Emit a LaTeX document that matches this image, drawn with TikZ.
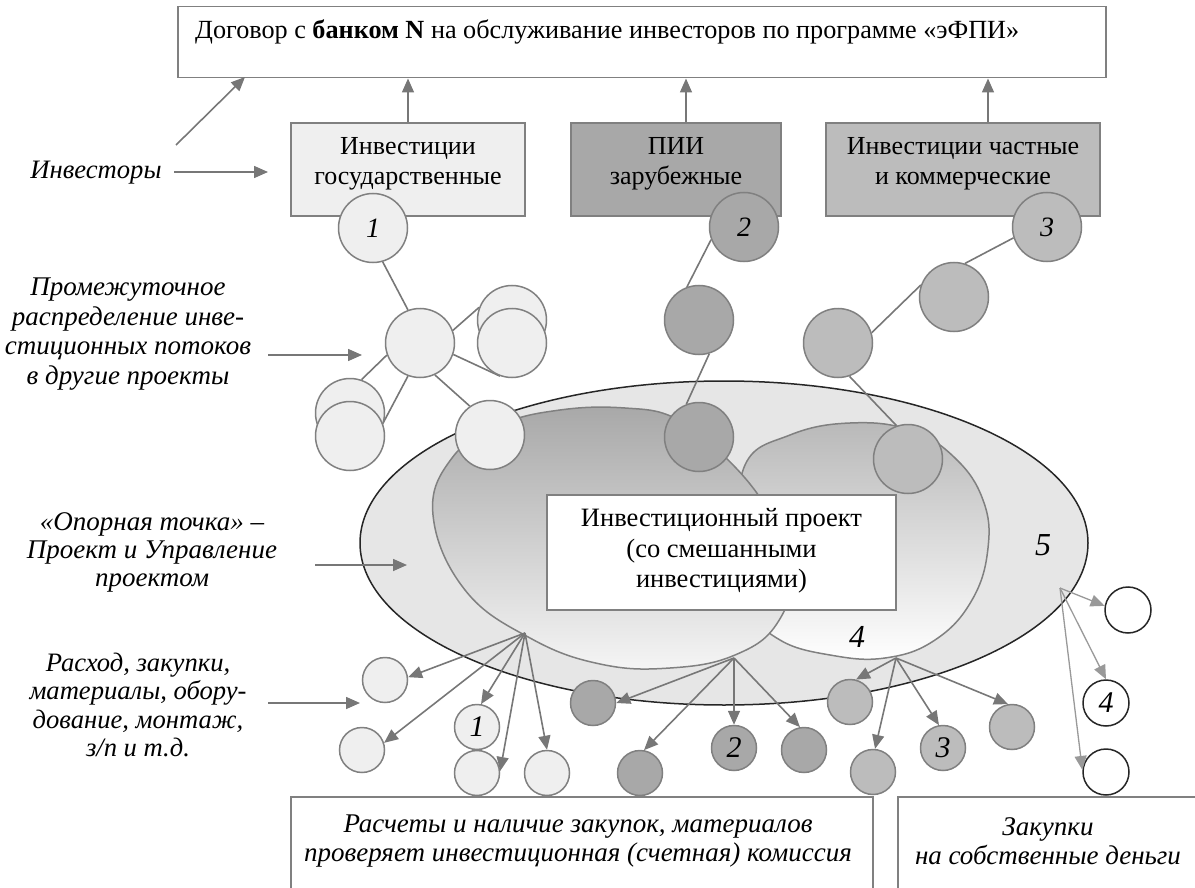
\documentclass[tikz,border=0pt]{standalone}
\usepackage{fontspec}
\setmainfont{Liberation Serif}
\usetikzlibrary{arrows.meta,shapes.geometric}
\definecolor{cl}{HTML}{EFEFEF}
\definecolor{cd}{HTML}{A8A8A8}
\definecolor{cm}{HTML}{BCBCBC}
\definecolor{edgec}{HTML}{808080}
\definecolor{conn}{HTML}{777777}
\definecolor{connl}{HTML}{999999}
\definecolor{ellc}{HTML}{E6E6E6}
\pgfdeclarelayer{fg}
\pgfsetlayers{main,fg}
\tikzset{
  bx/.style={draw=edgec, line width=1.5pt, inner sep=0pt},
  btxt/.style={align=center, font=\fontsize{26}{30}\selectfont},
  big/.style={circle, draw=edgec, line width=1.5pt, minimum size=69pt, inner sep=0pt, font=\fontsize{28}{28}\selectfont\itshape},
  sml/.style={circle, draw=edgec, line width=1.5pt, minimum size=45pt, inner sep=0pt, font=\fontsize{30}{30}\selectfont\itshape},
  wc/.style={circle, draw=black!85, line width=1.5pt, fill=white, minimum size=46pt, inner sep=0pt, font=\fontsize{30}{30}\selectfont\itshape},
  ln/.style={draw=conn, line width=1.6pt},
  arr/.style={draw=conn, line width=1.6pt, -{Triangle[length=14pt,width=12pt]}, conn},
  arrl/.style={draw=connl, line width=1.3pt, -{Triangle[length=14pt,width=12pt]}, connl},
  lab/.style={align=center, font=\fontsize{27}{29.5}\selectfont\itshape},
}
\begin{document}
\begin{tikzpicture}[x=1pt,y=-1pt]
\useasboundingbox (0,0) rectangle (1195,888);

% top contract box
\node[bx, fill=white, minimum width=928, minimum height=71, anchor=north west] (top) at (177,6) {};
\node[anchor=west, inner sep=0pt, font=\fontsize{26.2}{30}\selectfont] (toptxt) at (195,32) {Договор с \textbf{банком N} на обслуживание инвесторов по программе «эФПИ»};

% investor boxes
\node[bx, fill=cl, minimum width=234, minimum height=93] (b1) at (408,169.5) {};
\node[btxt] (b1t) at (408,164) {Инвестиции\\государственные};
\node[bx, fill=cd, minimum width=210, minimum height=93] (b2) at (676,169.5) {};
\node[btxt] (b2t) at (676,164) {ПИИ\\зарубежные};
\node[bx, fill=cm, minimum width=274, minimum height=93] (b3) at (963,169.5) {};
\node[btxt] (b3t) at (963,164) {Инвестиции частные\\и коммерческие};

\draw[arr] (b1.north) -- (b1.north |- top.south);
\draw[arr] ([xshift=10pt]b2.north) -- ([xshift=10pt]b2.north |- top.south);
\draw[arr] ([xshift=25pt]b3.north) -- ([xshift=25pt]b3.north |- top.south);

% left labels
\node[lab, font=\fontsize{26.6}{30}\selectfont\itshape] (linv) at (96,173) {Инвесторы};
\coordinate (inv1) at (174,172);
\coordinate (inv2) at (268,172);
\coordinate (inv3) at (176,145);
\coordinate (inv4) at (245,77);
\draw[arr] (inv1) -- (inv2);
\draw[arr] (inv3) -- (inv4);

\node[lab] (lprom) at (128,334) {Промежуточное\\распределение инве-\\стиционных потоков\\в другие проекты};
\coordinate (pr1) at (268,355);
\coordinate (pr2) at (362,355);
\draw[arr] (pr1) -- (pr2);

\node[lab, font=\fontsize{27}{28}\selectfont\itshape] (lopor) at (152,552) {«Опорная точка» –\\Проект и Управление\\проектом};
\coordinate (op1) at (315,565);
\coordinate (op2) at (407,565);

\node[lab, font=\fontsize{26.6}{28.5}\selectfont\itshape] (lrash) at (138,705) {Расход, закупки,\\материалы, обору-\\дование, монтаж,\\з/п и т.д.};
\coordinate (ra1) at (268,703);
\coordinate (ra2) at (360,703);
\draw[arr] (ra1) -- (ra2);

% project ellipse and blobs
\node[ellipse, draw=black!85, fill=ellc, line width=1.5pt, minimum width=728, minimum height=324, inner sep=0pt] (proj) at (724,543) {};
\path[draw=edgec, line width=1.5pt, top color=gray!55, bottom color=white]
  plot[smooth cycle, tension=0.7] coordinates {(745,465) (790,435) (850,423) (910,430) (955,458) (983,500) (988,548) (972,600) (935,640) (885,658) (830,655) (780,640) (755,610) (742,540)};
\path[draw=edgec, line width=1.5pt, top color=gray!68, bottom color=gray!8]
  plot[smooth cycle, tension=0.7] coordinates {(433,515) (452,458) (500,425) (560,410) (625,408) (675,418) (720,452) (765,505) (792,565) (778,622) (735,655) (670,668) (600,664) (530,638) (465,590)};
\draw[arr] (op1) -- (op2);

\node[bx, fill=white, minimum width=349, minimum height=115] (ip) at (721.5,552.5) {};
\node[btxt, font=\fontsize{26.5}{30.5}\selectfont] (ipt) at (721.5,551) {Инвестиционный проект\\(со смешанными\\инвестициями)};
\node[font=\fontsize{32}{32}\selectfont\itshape] (n5) at (1043,545) {5};
\node[font=\fontsize{32}{32}\selectfont\itshape] (n4) at (857,637) {4};

% bottom boxes
\node[bx, fill=white, minimum width=582, minimum height=120, anchor=north west] (bl) at (290,796) {};
\node[lab, font=\fontsize{27}{29.5}\selectfont\itshape] (blt) at (578,841) {Расчеты и наличие закупок, материалов\\проверяет инвестиционная (счетная) комиссия};
\node[bx, fill=white, minimum width=320, minimum height=120, anchor=north west] (br) at (897,796) {};
\node[lab, font=\fontsize{27}{29.5}\selectfont\itshape] (brt) at (1048,841) {Закупки\\на собственные деньги};

% chain circles (front layer)
\begin{pgfonlayer}{fg}
\node[big, fill=cl] (c1) at (373,228) {1};
\node[big, fill=cl] (hub) at (420,343) {};
\node[big, fill=cl] (pRb) at (512,320) {};
\node[big, fill=cl] (pRf) at (512,343) {};
\node[big, fill=cl] (pLb) at (350,413) {};
\node[big, fill=cl] (pLf) at (350,436) {};
\node[big, fill=cl] (lr) at (490,435) {};
\node[big, fill=cd] (c2) at (744,227) {2};
\node[big, fill=cd] (u2) at (699,320) {};
\node[big, fill=cd] (l2) at (699,437) {};
\node[big, fill=cm] (c3) at (1047,227) {3};
\node[big, fill=cm] (c3b) at (954,297) {};
\node[big, fill=cm] (c3c) at (838,343) {};
\node[big, fill=cm] (c3d) at (908,459) {};
\end{pgfonlayer}

\draw[ln] (c1.-74) -- (hub.110);
\draw[ln] (hub.21) -- (pRb.159);
\draw[ln] (hub.-19) -- (pRf.250);
\draw[ln] (hub.200) -- (pLb.71);
\draw[ln] (hub.250) -- (pLf.21);
\draw[ln] (hub.-65) -- (lr.125);
\draw[ln] (c2.201) -- (u2.110);
\draw[ln] (u2.-73) -- (l2.111);
\draw[ln] (c3.198) -- (c3b.72);
\draw[ln] (c3b.160) -- (c3c.17);
\draw[ln] (c3c.-71) -- (c3d.109);

% small circles
\node[sml, fill=cl] (sa) at (385,680) {};
\node[sml, fill=cl] (sb) at (362,750) {};
\node[sml, fill=cl] (s1) at (477,727) {1};
\node[sml, fill=cl] (sc) at (477,773) {};
\node[sml, fill=cl] (sd) at (547,773) {};
\node[sml, fill=cd] (se) at (593,703) {};
\node[sml, fill=cd] (sf) at (640,773) {};
\node[sml, fill=cd] (s2) at (734,748) {2};
\node[sml, fill=cd] (sg) at (804,750) {};
\node[sml, fill=cm] (sh) at (850,702) {};
\node[sml, fill=cm] (si) at (873,772) {};
\node[sml, fill=cm] (s3) at (943,748) {3};
\node[sml, fill=cm] (sj) at (1012,727) {};
\node[wc] (w1) at (1128,610) {};
\node[wc] (w4) at (1106,703) {4};
\node[wc] (w2) at (1106,772) {};

% fans
\coordinate (F1) at (525,633);
\coordinate (F2) at (734,658);
\coordinate (F3) at (896,658);
\coordinate (F4) at (1060,588);
\draw[arr] (F1) -- (sa.7);
\draw[arr] (F1) -- (sb.18);
\draw[arr] (F1) -- (s1.80);
\draw[arr] (F1) -- (sc.5);
\draw[arr] (F1) -- (sd.north);
\draw[arr] (F2) -- (se.0);
\draw[arr] (F2) -- (sf.80);
\draw[arr] (F2) -- (s2.north);
\draw[arr] (F2) -- (sg.100);
\draw[arr] (F3) -- (sh.75);
\draw[arr] (F3) -- (si.85);
\draw[arr] (F3) -- (s3.100);
\draw[arr] (F3) -- (sj.100);
\draw[arrl] (F4) -- (w1.170);
\draw[arrl] (F4) -- (w4.north);
\draw[arrl] (F4) -- (w2.175);
\end{tikzpicture}
\end{document}
